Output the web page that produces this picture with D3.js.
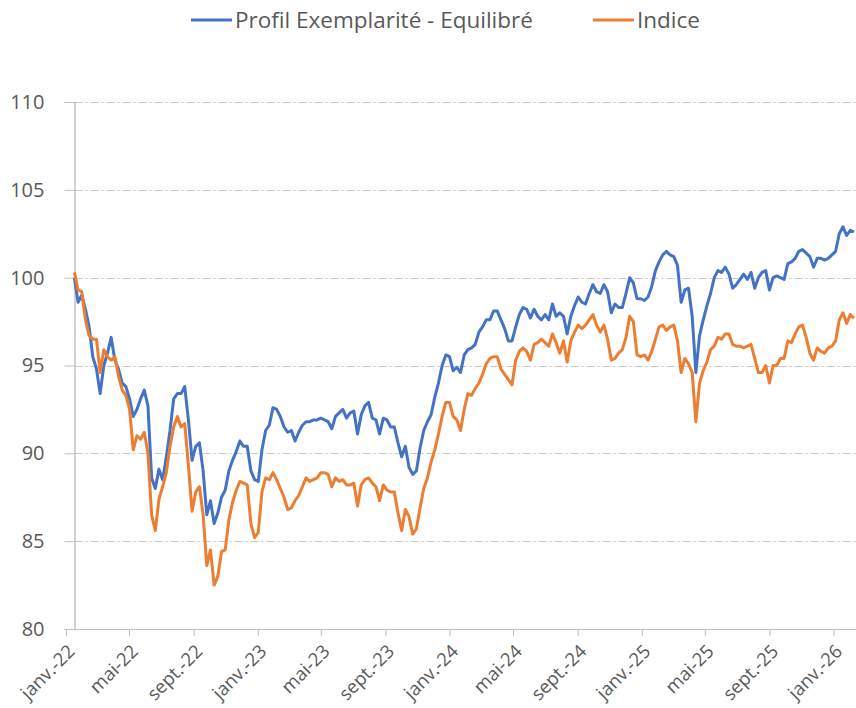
<!DOCTYPE html>
<html><head><meta charset="utf-8">
<script src="https://cdn.jsdelivr.net/npm/d3@7"></script>
<style>
html,body{margin:0;padding:0;background:#fff;}
text{font-family:"Open Sans","Noto Sans",sans-serif;fill:#595959;}
</style></head>
<body><svg id="chart" width="856" height="708"></svg>
<script>
// ---- data ----
const seriesNames = ["Profil Exemplarité - Equilibré", "Indice"];
const startDate = "2022-01-17";   // first weekly observation
const stepDays = 7;
const profil = [
100.0,98.6,99.0,98.2,97.2,95.5,94.8,93.4,95.0,95.7,96.6,95.3,94.8,94.0,93.8,93.1,92.1,92.5,93.1,93.6,
92.7,88.6,88.0,89.1,88.5,89.8,91.3,93.1,93.4,93.4,93.8,91.9,89.6,90.4,90.6,89.0,86.5,87.3,86.0,86.6,
87.5,87.9,89.0,89.6,90.1,90.7,90.4,90.4,89.0,88.5,88.4,90.2,91.3,91.6,92.6,92.5,92.1,91.5,91.2,91.3,
90.7,91.2,91.6,91.8,91.8,91.9,91.9,92.0,91.9,91.8,91.4,92.1,92.3,92.5,92.0,92.3,92.4,91.1,92.2,92.7,
92.9,92.0,91.9,91.1,92.0,91.9,91.5,91.5,90.6,89.8,90.4,89.2,88.8,89.0,90.3,91.3,91.8,92.2,93.2,94.0,
95.0,95.6,95.5,94.7,94.9,94.6,95.6,95.9,96.0,96.2,96.9,97.2,97.6,97.6,98.1,98.1,97.6,97.1,96.4,96.4,
97.2,97.9,98.3,98.2,97.7,98.2,97.8,97.6,97.9,97.6,98.5,97.8,98.0,97.8,96.8,97.8,98.4,98.9,98.6,98.5,
99.1,99.6,99.2,99.1,99.6,99.2,98.0,98.5,98.3,98.3,99.1,100.0,99.7,98.8,98.8,98.7,98.9,99.5,100.4,100.9,
101.3,101.5,101.3,101.2,100.7,98.6,99.3,99.4,97.8,94.6,96.7,97.6,98.4,99.1,100.0,100.4,100.3,100.6,100.2,99.4,
99.6,99.9,100.2,99.9,100.3,99.4,100.0,100.3,100.4,99.3,100.0,100.1,100.0,99.9,100.8,100.9,101.1,101.5,101.6,101.4,
101.2,100.6,101.1,101.1,101.0,101.1,101.3,101.5,102.5,102.9,102.4,102.7,102.6
];
const indice = [
100.3,99.3,99.2,97.6,96.7,96.5,96.5,94.6,95.9,95.5,95.3,95.5,94.4,93.6,93.3,92.5,90.2,91.0,90.8,91.2,
90.0,86.5,85.6,87.4,88.1,88.9,90.4,91.5,92.1,91.5,91.7,89.3,86.7,87.8,88.1,86.5,83.6,84.5,82.5,83.0,
84.4,84.5,86.2,87.2,87.9,88.4,88.3,88.2,86.0,85.2,85.5,87.8,88.6,88.5,88.9,88.5,88.0,87.5,86.8,86.9,
87.3,87.6,88.1,88.6,88.4,88.5,88.6,88.9,88.9,88.8,88.1,88.6,88.4,88.5,88.2,88.2,88.3,87.0,88.2,88.5,
88.6,88.3,88.1,87.3,88.2,87.9,87.8,87.8,86.6,85.6,86.8,86.4,85.4,85.7,86.9,88.0,88.6,89.5,90.2,91.1,
92.1,92.9,92.9,92.1,91.9,91.3,92.5,93.4,93.3,93.7,94.0,94.5,95.1,95.4,95.5,95.5,94.8,94.5,94.2,93.9,
95.3,95.8,96.0,95.8,95.3,96.2,96.3,96.5,96.3,96.1,96.8,96.3,95.7,96.4,95.2,96.4,96.9,97.3,97.1,97.3,
97.6,97.9,97.3,96.9,97.3,96.5,95.3,95.4,95.7,95.9,96.6,97.8,97.5,95.6,95.5,95.6,95.3,95.8,96.5,97.2,
97.3,97.0,97.2,97.3,96.4,94.6,95.4,95.1,94.6,91.8,94.0,94.7,95.2,95.9,96.1,96.6,96.5,96.8,96.8,96.2,
96.1,96.1,96.0,96.1,96.2,95.4,94.6,94.6,95.0,94.0,95.0,95.0,95.4,95.4,96.4,96.3,96.8,97.2,97.3,96.6,
95.7,95.3,96.0,95.8,95.7,96.0,96.1,96.4,97.6,98.0,97.4,97.9,97.7
];
const yTicks = [80, 85, 90, 95, 100, 105, 110];
const xTickLabels = ["janv.-22","mai-22","sept.-22","janv.-23","mai-23","sept.-23",
  "janv.-24","mai-24","sept.-24","janv.-25","mai-25","sept.-25","janv.-26"];
const colors = ["#4472C4", "#ED7D31"];

(function(){
const svg = d3.select("#chart");
const mLeft = 66, mRight = 856, mTop = 102, mBottom = 629;
const parse = d3.timeParse("%Y-%m-%d");
const d0 = parse(startDate);
const dates = profil.map((_, i) => d3.timeDay.offset(d0, i * stepDays));

const x = d3.scaleTime()
  .domain([new Date(2022, 0, 1), new Date(2026, 0, 1)])
  .range([mLeft, 833.5]);
const y = d3.scaleLinear().domain([80, 110]).range([mBottom, mTop]);
const axisX = Math.round(x(d0)) + 0.5;

// gridlines
svg.append("g").selectAll("line").data(yTicks.filter(v => v !== 80)).join("line")
  .attr("x1", axisX).attr("x2", mRight)
  .attr("y1", d => Math.round(y(d)) + 0.5).attr("y2", d => Math.round(y(d)) + 0.5)
  .attr("stroke", "#c8c8c8").attr("stroke-width", 1)
  .attr("stroke-dasharray", "8,3,2,3");

// y axis
const yAxis = d3.axisLeft(y).tickValues(yTicks).tickSize(10).tickPadding(20).tickFormat(d3.format("d"));
const gy = svg.append("g").attr("transform", `translate(${axisX},0)`).call(yAxis);
gy.select(".domain").attr("stroke", "#a6a6a6");
gy.selectAll(".tick line").attr("stroke", "#bfbfbf");
gy.selectAll(".tick text").attr("font-size", 20).attr("fill", "#595959")
  .attr("font-family", "'Open Sans','Noto Sans',sans-serif");

// x axis
const xTickDates = xTickLabels.map((_, i) => d3.timeMonth.offset(new Date(2022, 0, 1), i * 4));
const xAxis = d3.axisBottom(x).tickValues(xTickDates).tickSize(7).tickSizeOuter(0)
  .tickFormat((d, i) => xTickLabels[i]);
const gx = svg.append("g").attr("transform", `translate(0,${mBottom})`).call(xAxis);
gx.select(".domain").attr("d", `M${mLeft - 1},0.5H${mRight}`).attr("stroke", "#bfbfbf");
gx.selectAll(".tick line").attr("stroke", "#bfbfbf");
gx.selectAll(".tick text")
  .attr("font-size", 18.5).attr("fill", "#595959")
  .attr("font-family", "'Open Sans','Noto Sans',sans-serif")
  .attr("text-anchor", "end")
  .attr("dy", "0.35em")
  .attr("transform", "translate(5,19) rotate(-45)")
  .attr("y", 0).attr("x", 0);

// lines
const line = d3.line().x((d, i) => x(dates[i])).y(d => y(d));
[profil, indice].forEach((s, j) => {
  svg.append("path").datum(s).attr("d", line)
    .attr("fill", "none").attr("stroke", colors[j])
    .attr("stroke-width", 3).attr("stroke-linejoin", "round");
});

// legend
const legendItems = [{x: 191, name: seriesNames[0], c: colors[0]}, {x: 593, name: seriesNames[1], c: colors[1]}];
const lg = svg.append("g");
legendItems.forEach(it => {
  lg.append("line").attr("x1", it.x).attr("x2", it.x + 41).attr("y1", 20).attr("y2", 20)
    .attr("stroke", it.c).attr("stroke-width", 3);
  lg.append("text").attr("x", it.x + 44).attr("y", 20).attr("dy", "0.35em")
    .attr("font-size", 22.5).text(it.name);
});
})();
</script></body></html>
